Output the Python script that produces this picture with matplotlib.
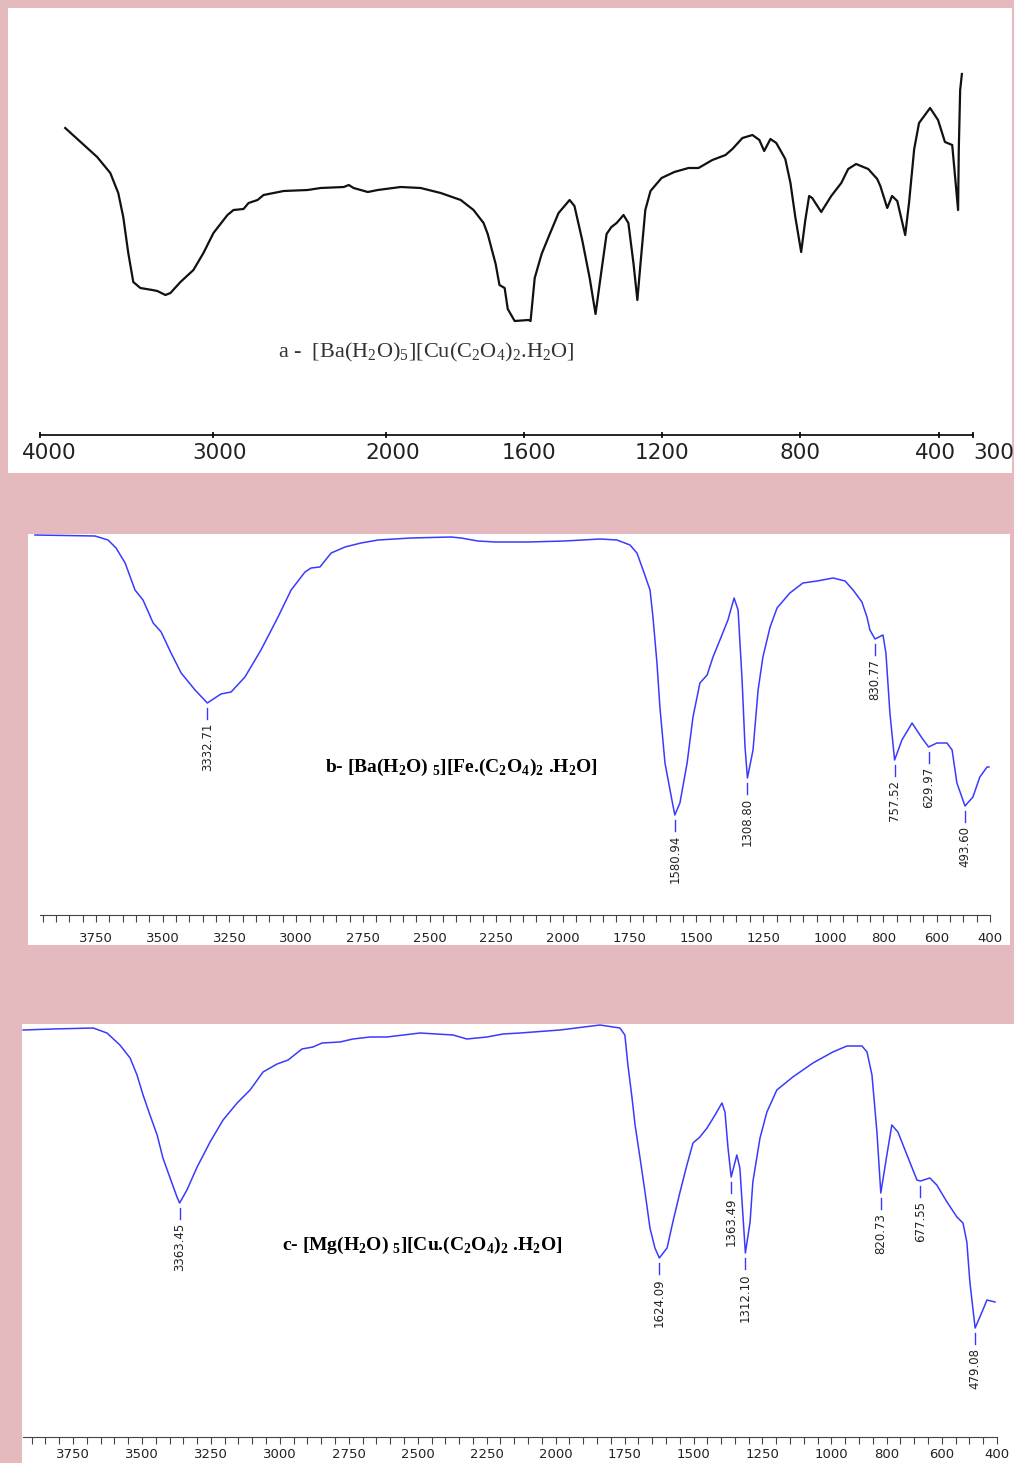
# IR spectra of three oxalato complexes (a: scanned chart, b/c: instrument plots)
import numpy as np
import matplotlib
matplotlib.use('Agg')
import matplotlib.pyplot as plt
from matplotlib.patches import Rectangle

plt.rcParams['mathtext.fontset'] = 'custom'
plt.rcParams['mathtext.rm'] = 'Liberation Serif'
plt.rcParams['mathtext.bf'] = 'Liberation Serif:bold'

# ---- data (wavenumber cm-1, transmittance %) ----
a_wn = [3855, 3670, 3594, 3548, 3519, 3490, 3461, 3420, 3351, 3322, 3275, 3246, 3188,
        3113, 3055, 2997, 2916, 2881, 2823, 2794, 2742, 2707, 2591, 2452, 2377, 2243,
        2214, 2186, 2104, 2046, 1957, 1899, 1841, 1783, 1746, 1717, 1705, 1682, 1671,
        1656, 1647, 1627, 1587, 1581, 1569, 1549, 1529, 1500, 1468, 1454, 1431, 1410,
        1393, 1376, 1361, 1347, 1332, 1312, 1298, 1283, 1272, 1263, 1249, 1234, 1202,
        1165, 1124, 1095, 1055, 1017, 997, 968, 939, 919, 905, 887, 870, 844, 829, 815,
        798, 786, 775, 766, 740, 711, 682, 662, 639, 604, 578, 569, 549, 535, 520, 497,
        486, 471, 457, 425, 402, 382, 361, 344, 342, 338, 333]
a_T = [80.5, 73.25, 69.25, 64.25, 58.25, 49.25, 42, 40.5, 40, 39.75, 38.75, 39.25, 42,
       45, 49.25, 54.25, 58.75, 60, 60.25, 61.75, 62.5, 63.75, 64.75, 65, 65.5, 65.75,
       66.25, 65.5, 64.5, 65, 65.75, 65.5, 64.25, 62.5, 60, 56.75, 54, 46.5, 41.25,
       40.5, 35.25, 32.25, 32.5, 32.25, 43, 49, 53.25, 59.25, 62.5, 61, 52.25, 43,
       34, 44.75, 54, 55.75, 56.75, 58.75, 56.75, 46.5, 37.5, 46.5, 60, 64.75, 68,
       69.5, 70.5, 70.5, 72.5, 73.75, 75.25, 78, 78.75, 77.5, 74.75, 77.75, 76.75, 72.75, 66.75, 58.25,
       49.5, 57.5, 63.5, 63, 59.5, 63.5, 66.75, 70.25, 71.5, 70.25, 67.75, 66, 60.5, 63.5, 62.25, 53.75,
       61.75, 75.25, 81.75, 85.5, 82.5, 77, 76.25, 60, 75, 90, 94]

b_wn = [3979, 3754, 3705, 3675, 3641, 3604, 3574, 3536, 3506, 3469, 3431, 3379, 3333,
        3282, 3244, 3192, 3132, 3068, 3019, 2967, 2944, 2911, 2869, 2817, 2757, 2693,
        2570, 2420, 2382, 2319, 2255, 2131, 1993, 1861, 1798, 1749, 1723, 1700, 1674,
        1663, 1648, 1637, 1618, 1592, 1581, 1562, 1535, 1513, 1487, 1460, 1438, 1412,
        1382, 1359, 1344, 1329, 1318, 1309, 1288, 1269, 1251, 1224, 1198, 1150, 1101,
        1048, 988, 943, 913, 880, 861, 850, 831, 801, 790, 775, 757.5, 730, 692, 655,
        630, 599, 561, 542, 524, 493.6, 464, 438, 411, 404]
b_T = [100, 99.75, 98.75, 96.75, 93, 86.25, 83.75, 78, 75.75, 70.5, 65.5, 61.25, 58,
       60.25, 60.75, 64.5, 71.25, 79.5, 86.25, 90.75, 91.75, 92, 95.5, 97, 98, 98.75,
       99.25, 99.5, 99.25, 98.5, 98.25, 98.25, 98.5, 99, 98.75, 97.5, 95.5, 91.25, 86.25,
       79.5, 68, 57, 43, 33.75, 30, 33, 43, 54.5, 63, 65, 69.5, 73.75,
       78.75, 84.25, 81.25, 63.75, 47, 39.25, 46.25, 61.25, 69.5, 77, 81.75, 85.5, 88,
       88.5, 89.25, 88.5, 86.25, 83.25, 79.5, 76.25, 74, 75, 70.5, 55.5, 43.75, 48.75, 53, 49.25,
       47, 48, 48, 46.25, 38, 32.25, 34.5, 39.5, 42, 42]

c_wn = [3931, 3823, 3677, 3627, 3580, 3543, 3518, 3496, 3471, 3445, 3424, 3398, 3373,
        3363.45, 3337, 3300, 3253, 3206, 3155, 3108, 3061, 3010, 2970, 2920, 2880, 2847,
        2782, 2735, 2673, 2612, 2492, 2372, 2322, 2249, 2191, 2129, 1984, 1839, 1767,
        1749, 1738, 1723, 1712, 1694, 1676, 1658, 1640, 1624, 1596, 1575, 1549, 1524,
        1502, 1477, 1451, 1422, 1397, 1386, 1375, 1363.5, 1343, 1332, 1321, 1312, 1295,
        1285, 1259, 1234, 1198, 1140, 1067, 995, 944, 889, 871, 853, 835, 821, 799, 781,
        759, 726, 690, 677.5, 643, 618, 581, 545, 523, 509, 498, 479, 454, 436, 407]
c_T = [100, 100.25, 100.5, 99.25, 96.25, 93, 88.75, 83.75, 78.75, 73.75, 68, 63, 58.25,
       56.75, 60, 65.75, 72, 77.5, 81.75, 85, 89.5, 91.5, 92.5, 95.25, 95.75, 96.75,
       97, 97.75, 98.25, 98.25, 99.25, 98.75, 97.75, 98.25, 99, 99.25, 100, 101.25, 100.5,
       98.75, 91.25, 83, 76.25, 68, 59.5, 50.5, 45.5, 43, 45.5, 52, 59.5, 66.25,
       71.75, 73.25, 75.5, 78.75, 81.75, 79.5, 70.5, 63.25, 68.75, 65.5, 53.75, 44.25, 52,
       62, 73, 79.5, 85, 88.25, 91.75, 94.5, 96, 96, 94.5, 88.75, 74.5, 59.25, 68.75, 76.25,
       74.5, 68.75, 62.5, 62.25, 63, 61.25, 57, 53.25, 51.75, 47, 37, 25.5, 29.5, 32.5, 32]

b_peaks = [3332.71, 1580.94, 1308.80, 830.77, 757.52, 629.97, 493.60]
b_peak_T = [58, 30, 39.25, 74, 43.75, 47, 32.25]
c_peaks = [3363.45, 1624.09, 1363.49, 1312.10, 820.73, 677.55, 479.08]
c_peak_T = [56.75, 43, 63.25, 44.25, 59.25, 62.25, 25.5]

a_ticks = [4000, 3000, 2000, 1600, 1200, 800, 400, 300]
bc_ticks = [3750, 3500, 3250, 3000, 2750, 2500, 2250, 2000, 1750, 1500, 1250, 1000, 800, 600, 400]

title_a = r'a -  [Ba(H$_\mathrm{2}$O)$_\mathrm{5}$][Cu(C$_\mathrm{2}$O$_\mathrm{4}$)$_\mathrm{2}$.H$_\mathrm{2}$O]'
title_b = r'b- [Ba(H$_\mathbf{2}$O) $_\mathbf{5}$][Fe.(C$_\mathbf{2}$O$_\mathbf{4}$)$_\mathbf{2}$ .H$_\mathbf{2}$O]'
title_c = r'c- [Mg(H$_\mathbf{2}$O) $_\mathbf{5}$][Cu.(C$_\mathbf{2}$O$_\mathbf{4}$)$_\mathbf{2}$ .H$_\mathbf{2}$O]'

W, H = 1014, 1463
BLUE = '#3a3aff'
PINK = '#e4babe'
NARROW = ['Liberation Sans Narrow', 'DejaVu Sans Condensed', 'DejaVu Sans']


def px_rect(x0, y0, x1, y1):
    return [x0 / W, 1 - y1 / H, (x1 - x0) / W, (y1 - y0) / H]


def white_box(fig, x0, y0, x1, y1):
    fig.patches.append(Rectangle((x0 / W, 1 - y1 / H), (x1 - x0) / W, (y1 - y0) / H,
                                 transform=fig.transFigure, facecolor='white',
                                 edgecolor='none', zorder=-10))


def strip_axes(ax):
    for s in ['top', 'right', 'left']:
        ax.spines[s].set_visible(False)
    ax.set_yticks([])
    ax.set_facecolor('none')


def mark_peaks(ax, peaks, peak_T):
    # short blue tick under each band and its wavenumber, rotated
    for wn, t in zip(peaks, peak_T):
        ax.plot([wn, wn], [t - 1.2, t - 4.0], color=BLUE, lw=1.0)
        ax.text(wn, t - 5.0, f'{wn:.2f}', rotation=90, ha='center', va='top',
                fontsize=8.5, family=NARROW, color='#222')


# piecewise wavenumber scale of the old chart (double expansion below 2000)
def fwd(w):
    w = np.asarray(w, dtype=float)
    return np.where(w > 2000, 1000 + w / 2, w)


def inv(u):
    u = np.asarray(u, dtype=float)
    return np.where(u > 2000, 2 * (u - 1000), u)


fig = plt.figure(figsize=(W / 100, H / 100), dpi=100)
fig.patch.set_facecolor(PINK)
white_box(fig, 8, 8, 1012, 473)
white_box(fig, 28, 534, 1010, 945)
white_box(fig, 22, 1024, 1014, 1463)

# ---- panel a ----
axa = fig.add_axes(px_rect(8, 8, 1012, 435))
strip_axes(axa)
axa.set_xscale('function', functions=(fwd, inv))
axa.plot(a_wn, a_T, color='#111111', lw=1.6)
axa.set_xlim(4186, 188)
axa.set_ylim(3.75, 110.5)
axa.spines['bottom'].set_bounds(4000, 300)
axa.spines['bottom'].set_linewidth(1.2)
axa.set_xticks(a_ticks, [''] * len(a_ticks))
axa.tick_params(axis='x', direction='inout', length=5, width=1.2)
shift = {300: 20, 4000: 9, 3000: 7, 2000: 7, 1600: 5, 400: -3}
for t in a_ticks:
    axa.annotate(str(t), xy=(t, 0), xycoords=axa.get_xaxis_transform(),
                 xytext=(shift.get(t, 0), -8), textcoords='offset pixels',
                 ha='center', va='top', fontsize=15.5, color='#222')
fig.text(426 / W, 1 - 352 / H, title_a, ha='center', va='center', fontsize=16,
         family='Liberation Serif', color='#333')

# ---- panel b ----
axb = fig.add_axes(px_rect(28, 534, 1010, 915))
strip_axes(axb)
axb.plot(b_wn, b_T, color=BLUE, lw=1.1)
axb.set_xlim(4005, 325)
axb.set_ylim(5, 100.25)
axb.spines['bottom'].set_bounds(3960, 400)
axb.spines['bottom'].set_color('#444')
axb.set_xticks(bc_ticks, [str(t) for t in bc_ticks])
axb.set_xticks(np.arange(400, 3951, 50), minor=True)
axb.tick_params(axis='x', which='both', direction='out', length=5, width=0.8,
                color='#444', labelsize=9.5, labelcolor='#222', pad=7)
mark_peaks(axb, b_peaks, b_peak_T)
fig.text(461 / W, 1 - 767 / H, title_b, ha='center', va='center', fontsize=14,
         family='Liberation Serif', weight='bold', color='black')

# ---- panel c ----
axc = fig.add_axes(px_rect(22, 1024, 1014, 1437))
strip_axes(axc)
axc.plot(c_wn, c_T, color=BLUE, lw=1.1)
axc.set_xlim(3935, 338)
axc.set_ylim(-1.75, 101.5)
axc.spines['bottom'].set_bounds(3930, 400)
axc.spines['bottom'].set_color('#444')
axc.set_xticks(bc_ticks, [str(t) for t in bc_ticks])
axc.set_xticks(np.arange(400, 3901, 50), minor=True)
axc.tick_params(axis='x', which='both', direction='out', length=5, width=0.8,
                color='#444', labelsize=9.5, labelcolor='#222', pad=3)
mark_peaks(axc, c_peaks, c_peak_T)
fig.text(422 / W, 1 - 1245 / H, title_c, ha='center', va='center', fontsize=14,
         family='Liberation Serif', weight='bold', color='black')

fig.savefig('out.png', dpi=100, facecolor=PINK)
